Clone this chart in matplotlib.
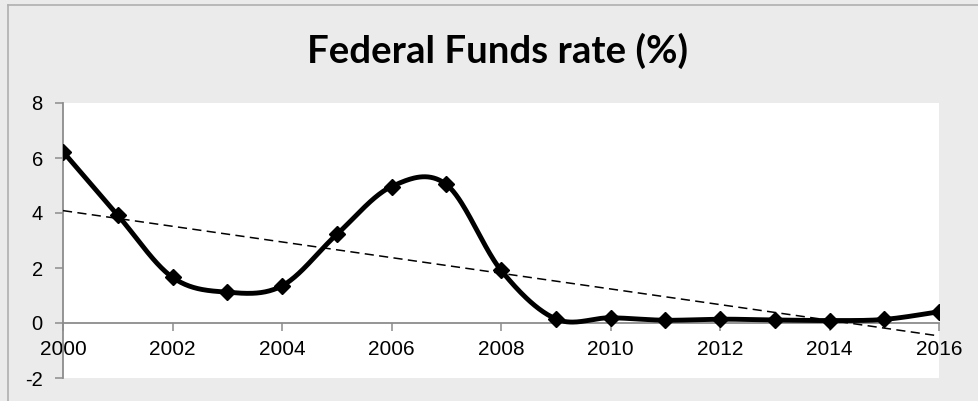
import numpy as np
import matplotlib
matplotlib.use("Agg")
import matplotlib.pyplot as plt
from matplotlib.lines import Line2D

# ---- data ----
years = [2000, 2001, 2002, 2003, 2004, 2005, 2006, 2007, 2008,
         2009, 2010, 2011, 2012, 2013, 2014, 2015, 2016]
rates = [6.23, 3.92, 1.66, 1.12, 1.35, 3.22, 4.96, 5.04, 1.92,
         0.15, 0.19, 0.10, 0.14, 0.11, 0.09, 0.13, 0.41]
x_ticks = [2000, 2002, 2004, 2006, 2008, 2010, 2012, 2014, 2016]
y_ticks = [-2, 0, 2, 4, 6, 8]
title = "Federal Funds rate (%)"

W, H = 979, 401
BG = "#ebebeb"
fig = plt.figure(figsize=(W / 100, H / 100), dpi=100, facecolor=BG)
ax = fig.add_axes([63 / W, 23 / H, 876 / W, 275 / H])
ax.set_facecolor("white")


def smooth(xs, ys, n=40):
    """Excel-like smoothed line: cubic Bezier segments (Catmull-Rom, 1/6)."""
    P = np.column_stack([xs, ys]).astype(float)
    m = len(P)
    out = []
    for i in range(m - 1):
        p0 = P[i - 1] if i > 0 else P[i]
        p1 = P[i]
        p2 = P[i + 1]
        p3 = P[i + 2] if i + 2 < m else P[i + 1]
        c1 = p1 + (p2 - p0) / 6.0
        c2 = p2 - (p3 - p1) / 6.0
        t = np.linspace(0, 1, n)[:, None]
        seg = ((1 - t) ** 3) * p1 + 3 * ((1 - t) ** 2) * t * c1 + 3 * (1 - t) * t ** 2 * c2 + t ** 3 * p2
        out.append(seg if i == 0 else seg[1:])
    S = np.vstack(out)
    return S[:, 0], S[:, 1]


sx, sy = smooth(years, rates)
ax.plot(sx, sy, color="black", lw=3.5, solid_capstyle="round", zorder=4)
ax.plot(years, rates, linestyle="none", marker="D", ms=8.2, color="black",
        mec="black", mew=1.0, zorder=5)

# linear trendline
coef = np.polyfit(years, rates, 1)
tx = np.array([years[0], years[-1]], dtype=float)
ax.plot(tx, np.polyval(coef, tx), color="black", lw=1.1,
        linestyle=(0, (6, 3.5)), zorder=3)

ax.set_xlim(2000, 2016)
ax.set_ylim(-2, 8)
ax.set_xticks(x_ticks)
ax.set_yticks(y_ticks)

for s in ("top", "right"):
    ax.spines[s].set_visible(False)
ax.spines["bottom"].set_position(("data", 0))
for s in ("left", "bottom"):
    ax.spines[s].set_color("#8c8c8c")
    ax.spines[s].set_linewidth(1.3)
    ax.spines[s].set_zorder(2)
ax.tick_params(axis="both", direction="out", length=5.5, width=1.1, color="#8c8c8c")
ax.tick_params(axis="y", pad=9, labelsize=14.5)
ax.tick_params(axis="x", pad=7, labelsize=15)
ax.set_xticklabels([str(v) for v in x_ticks], fontsize=15, fontfamily="Liberation Sans")
ax.set_yticklabels([str(v) for v in y_ticks], fontsize=14.5, fontfamily="Liberation Sans")

# title (fit to measured width)
t = fig.text(498 / W, (H - 63) / H, title, ha="center", va="baseline",
             fontsize=30, fontweight="bold", family="Lato", color="black")
fig.canvas.draw()
bb = t.get_window_extent()
t.set_fontsize(30 * 380 / bb.width)

# outer frame lines
fig.add_artist(Line2D([8 / W, 1], [(H - 5) / H, (H - 5) / H], transform=fig.transFigure,
                      color="#b0b0b0", lw=1.2))
fig.add_artist(Line2D([8 / W, 8 / W], [0, (H - 5) / H], transform=fig.transFigure,
                      color="#b0b0b0", lw=1.2))

fig.savefig("out.png", dpi=100, facecolor=BG)
